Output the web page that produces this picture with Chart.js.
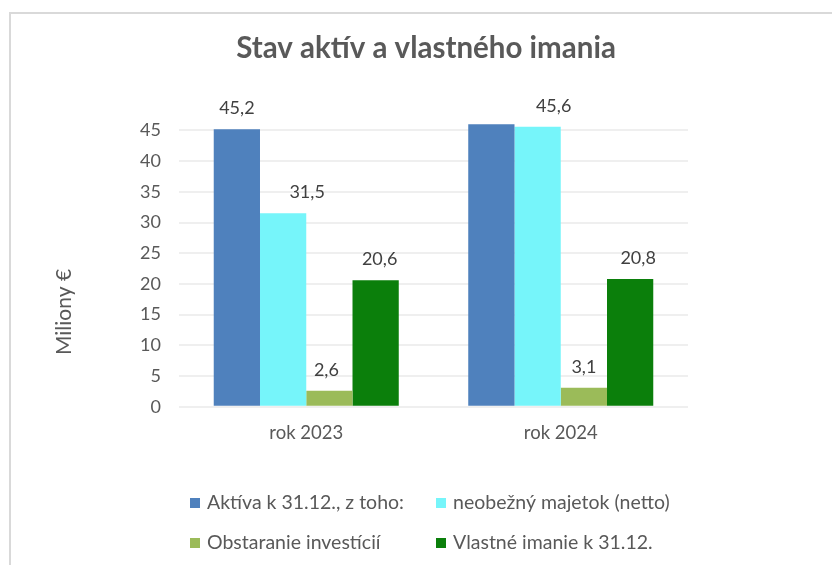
<!DOCTYPE html>
<html>
<head>
<meta charset="utf-8">
<script src="https://cdn.jsdelivr.net/npm/chart.js@4"></script>
<style>
html,body{margin:0;padding:0;background:#fff;}
#wrap{position:relative;width:832px;height:565px;}
</style>
</head>
<body>
<div id="wrap"><canvas id="c" width="832" height="565"></canvas></div>
<script>
// ---- data ----
const categories = ['rok 2023', 'rok 2024'];
const seriesNames = ['Aktíva k 31.12., z toho:', 'neobežný majetok (netto)', 'Obstaranie investícií', 'Vlastné imanie k 31.12.'];
const aktiva = [45.2, 46.0];
const neobezny = [31.5, 45.6];
const obstaranie = [2.6, 3.1];
const vlastne = [20.6, 20.8];
const yTicks = [0, 5, 10, 15, 20, 25, 30, 35, 40, 45];
const titleText = 'Stav aktív a vlastného imania';
const yTitle = 'Miliony €';

const colors = ['#4F81BD', '#76F5FA', '#9BBB59', '#0B7F0B'];
const FONT = 'Lato, "Open Sans", sans-serif';
const TXT = '#595959';

// label tweaks (shown flag, horizontal shift) per dataset/category
const labelShown = [[true, false], [true, true], [true, true], [true, true]];
const labelShift = [[0, 0], [24, 16], [-3, 0], [4, 8]];

const decor = {
  id: 'decor',
  afterDraw(chart) {
    const ctx = chart.ctx;
    ctx.save();
    // frame
    ctx.strokeStyle = '#d9d9d9';
    ctx.lineWidth = 2;
    ctx.strokeRect(10, 13, 1000, 1000);
    // title
    ctx.fillStyle = TXT;
    ctx.font = 'bold 29.5px ' + FONT;
    ctx.textAlign = 'center';
    ctx.textBaseline = 'alphabetic';
    ctx.fillText(titleText, 426, 58);
    // y title
    ctx.save();
    ctx.translate(71, 312);
    ctx.rotate(-Math.PI / 2);
    ctx.font = '21px ' + FONT;
    ctx.textAlign = 'center';
    ctx.textBaseline = 'alphabetic';
    ctx.fillText(yTitle, 0, 0);
    ctx.restore();
    // data labels
    ctx.font = '18px ' + FONT;
    ctx.fillStyle = '#404040';
    ctx.textAlign = 'center';
    ctx.textBaseline = 'alphabetic';
    chart.data.datasets.forEach((ds, di) => {
      const meta = chart.getDatasetMeta(di);
      meta.data.forEach((bar, i) => {
        if (!labelShown[di][i]) return;
        const txt = ds.data[i].toFixed(1).replace('.', ',');
        ctx.fillText(txt, bar.x + labelShift[di][i], bar.y - 15);
      });
    });
    // legend
    const cols = [190, 436];
    const rows = [503, 543];
    ctx.font = '19.5px ' + FONT;
    ctx.textAlign = 'left';
    ctx.textBaseline = 'middle';
    seriesNames.forEach((name, k) => {
      const x = cols[k % 2], y = rows[Math.floor(k / 2)];
      ctx.fillStyle = colors[k];
      ctx.fillRect(x, y - 5, 10, 10);
      ctx.fillStyle = TXT;
      ctx.fillText(name, x + 17, y);
    });
    ctx.restore();
  }
};

const series = [aktiva, neobezny, obstaranie, vlastne];
new Chart(document.getElementById('c'), {
  type: 'bar',
  data: {
    labels: categories,
    datasets: series.map((d, k) => ({
      label: seriesNames[k],
      data: d,
      backgroundColor: colors[k],
      borderWidth: 0,
      categoryPercentage: 0.727,
      barPercentage: 1.0
    }))
  },
  options: {
    responsive: false,
    animation: false,
    devicePixelRatio: 1,
    layout: { padding: { left: 0, right: 144, top: 112, bottom: 118.3 } },
    plugins: { legend: { display: false }, title: { display: false }, tooltip: { enabled: false } },
    scales: {
      x: {
        grid: { display: false, drawTicks: false },
        border: { display: false },
        ticks: { color: TXT, font: { family: FONT, size: 18.5 }, padding: 15 },
        afterFit(s) { s.height = 40; }
      },
      y: {
        min: 0,
        max: 48,
        afterBuildTicks(s) { s.ticks = yTicks.map(v => ({ value: v })); },
        grid: { color: '#efefef', lineWidth: 2, drawTicks: false },
        border: { display: false },
        ticks: { color: TXT, font: { family: FONT, size: 18 }, padding: 18 },
        afterFit(s) { s.width = 179; }
      }
    }
  },
  plugins: [decor]
});
</script>
</body>
</html>
